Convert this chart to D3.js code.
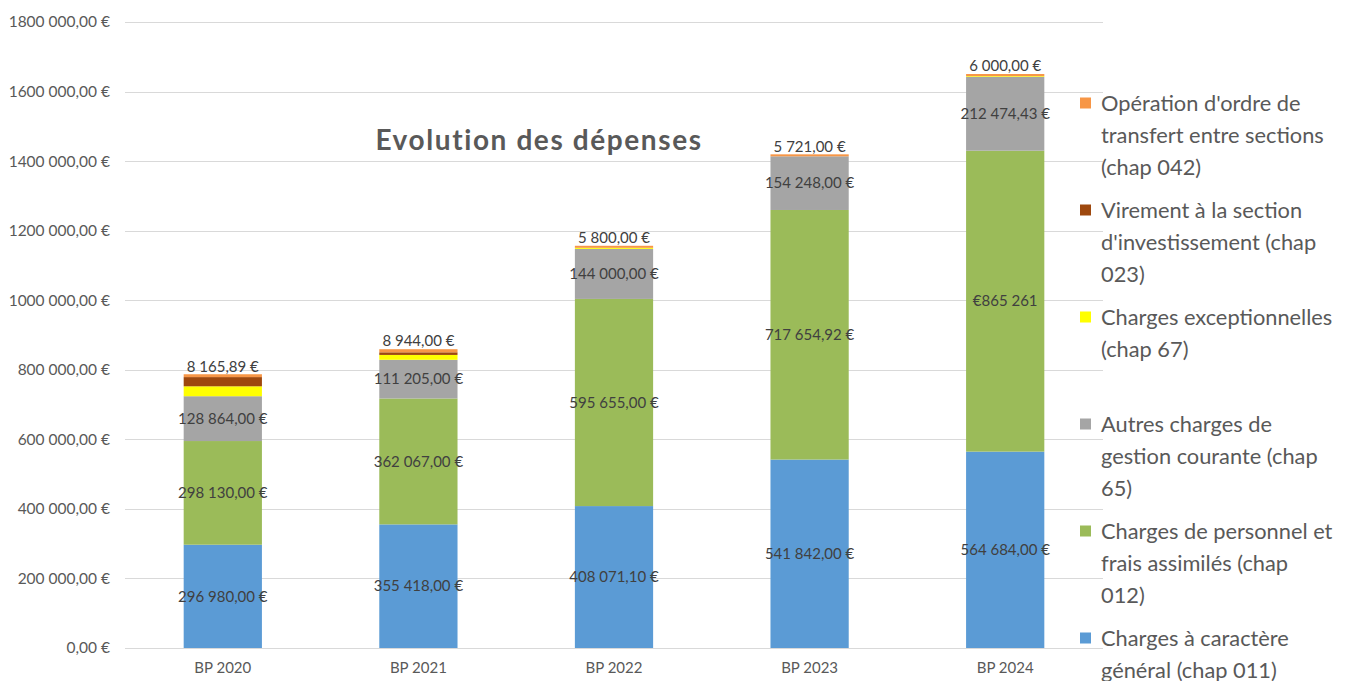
<!DOCTYPE html>
<html>
<head>
<meta charset="utf-8">
<script src="https://cdn.jsdelivr.net/npm/d3@7"></script>
<style>
	html, body { margin: 0; padding: 0; background: #fff; }
	svg { display: block; font-family: Lato, "Open Sans", sans-serif; }
</style>
</head>
<body>
<svg id="chart" width="1363" height="681"></svg>
<script>
//
// Stacked bar chart of budget spending (BP 2020 - 2024)
//
const years = ["BP 2020", "BP 2021", "BP 2022", "BP 2023", "BP 2024"];

const chargesGeneral = [296980, 355418, 408071.1, 541842, 564684];
const chargesPersonnel = [298130, 362067, 595655, 717654.92, 865261];
const autresCharges = [128864, 111205, 144000, 154248, 212474.43];
const chargesExceptionnelles = [28500, 14000, 3000, 0, 2000];
const virementInvestissement = [26500, 7500, 0, 0, 0];
const operationOrdre = [8165.89, 8944, 5800, 5721, 6000];

const seriesNames = [
	"Charges à caractère général (chap 011)",
	"Charges de personnel et frais assimilés (chap 012)",
	"Autres charges de gestion courante (chap 65)",
	"Charges exceptionnelles (chap 67)",
	"Virement à la section d'investissement (chap 023)",
	"Opération d'ordre de transfert entre sections (chap 042)",
];
const seriesColors = ["#5b9bd5", "#9bbb59", "#a5a5a5", "#ffff00", "#9e480e", "#f79646"];
const labelledSeries = [true, true, true, false, false, true];

// legend lines as they wrap in the original
const legendLines = [
	["Opération d'ordre de", "transfert entre sections", "(chap 042)"],
	["Virement à la section", "d'investissement (chap", "023)"],
	["Charges exceptionnelles", "(chap 67)"],
	["Autres charges de", "gestion courante (chap", "65)"],
	["Charges de personnel et", "frais assimilés (chap", "012)"],
	["Charges à caractère", "général (chap 011)"],
];
const legendOrder = [5, 4, 3, 2, 1, 0];

const yTicks = [0, 200000, 400000, 600000, 800000, 1000000, 1200000, 1400000, 1600000, 1800000];
const yTickLabels = [
	"0,00 €", "200 000,00 €", "400 000,00 €", "600 000,00 €", "800 000,00 €",
	"1000 000,00 €", "1200 000,00 €", "1400 000,00 €", "1600 000,00 €", "1800 000,00 €",
];
const labelOverrides = { "BP 2024|1": "€865 261" };

const allSeries = [
	chargesGeneral, chargesPersonnel, autresCharges,
	chargesExceptionnelles, virementInvestissement, operationOrdre,
];

const rows = years.map((year, i) => {
	const row = { year };
	allSeries.forEach((s, k) => (row[k] = s[i]));
	return row;
});

const fr = d3.formatLocale({
	decimal: ",",
	thousands: "\u00a0",
	grouping: [3],
	currency: ["", "\u00a0€"],
});
const fmt = fr.format("$,.2f");

const svg = d3.select("#chart");
const left = 125;
const right = 1103;

const x = d3.scaleBand().domain(years).range([left, right]).paddingInner(0.6).paddingOuter(0.3);
const y = d3.scaleLinear().domain([0, 1800000]).range([648, 22]);

// gridlines
svg.append("g")
	.selectAll("line")
	.data(yTicks)
	.enter()
	.append("line")
	.attr("x1", left)
	.attr("x2", right)
	.attr("y1", (d) => Math.round(y(d)) + 0.5)
	.attr("y2", (d) => Math.round(y(d)) + 0.5)
	.style("stroke", "#d9d9d9")
	.style("stroke-width", "1px");

// y tick labels
svg.append("g")
	.selectAll("text")
	.data(yTicks)
	.enter()
	.append("text")
	.attr("x", 110)
	.attr("y", (d) => y(d))
	.attr("dy", "0.35em")
	.attr("text-anchor", "end")
	.text((d, i) => yTickLabels[i])
	.style("font-size", "15.5px")
	.style("fill", "#595959");

// category labels
svg.append("g")
	.selectAll("text")
	.data(years)
	.enter()
	.append("text")
	.attr("x", (d) => x(d) + x.bandwidth() / 2)
	.attr("y", 673)
	.attr("text-anchor", "middle")
	.text((d) => d)
	.style("font-size", "15px")
	.style("fill", "#595959");

const stacked = d3.stack().keys(d3.range(allSeries.length))(rows);

const layers = svg.append("g")
	.selectAll("g")
	.data(stacked)
	.enter()
	.append("g")
	.style("fill", (d) => seriesColors[d.key]);

layers.selectAll("rect")
	.data((d) => d)
	.enter()
	.append("rect")
	.attr("x", (d) => x(d.data.year))
	.attr("width", x.bandwidth())
	.attr("y", (d) => y(d[1]))
	.attr("height", (d) => Math.max(0, y(d[0]) - y(d[1])));

// data labels
const labels = svg.append("g");
stacked.forEach((layer) => {
	if (!labelledSeries[layer.key]) return;
	const isTop = layer.key === allSeries.length - 1;
	layer.forEach((d) => {
		const over = labelOverrides[`${d.data.year}|${layer.key}`];
		const ly = isTop ? y(d[1]) - 8 : (y(d[0]) + y(d[1])) / 2;
		labels.append("text")
			.attr("x", x(d.data.year) + x.bandwidth() / 2)
			.attr("y", ly)
			.attr("dy", "0.35em")
			.attr("text-anchor", "middle")
			.text(over || fmt(d.data[layer.key]))
			.style("font-size", "15px")
			.style("fill", "#404040");
	});
});

// title
svg.append("text")
	.attr("x", 539)
	.attr("y", 150)
	.attr("text-anchor", "middle")
	.text("Evolution des dépenses")
	.style("font-size", "28px")
	.style("letter-spacing", "1.6px")
	.style("font-weight", "700")
	.style("fill", "#595959");

// legend
const legend = svg.append("g");
legendOrder.forEach((k, i) => {
	const cy = 103 + 107 * i;
	legend.append("rect")
		.attr("x", 1080)
		.attr("y", cy - 5.5)
		.attr("width", 11)
		.attr("height", 11)
		.style("fill", seriesColors[k]);
	legendLines[i].forEach((line, j) => {
		legend.append("text")
			.attr("x", 1101)
			.attr("y", cy + 32 * j)
			.attr("dy", "0.35em")
			.text(line)
			.style("font-size", "21.8px")
			.style("fill", "#595959");
	});
});
</script>
</body>
</html>
